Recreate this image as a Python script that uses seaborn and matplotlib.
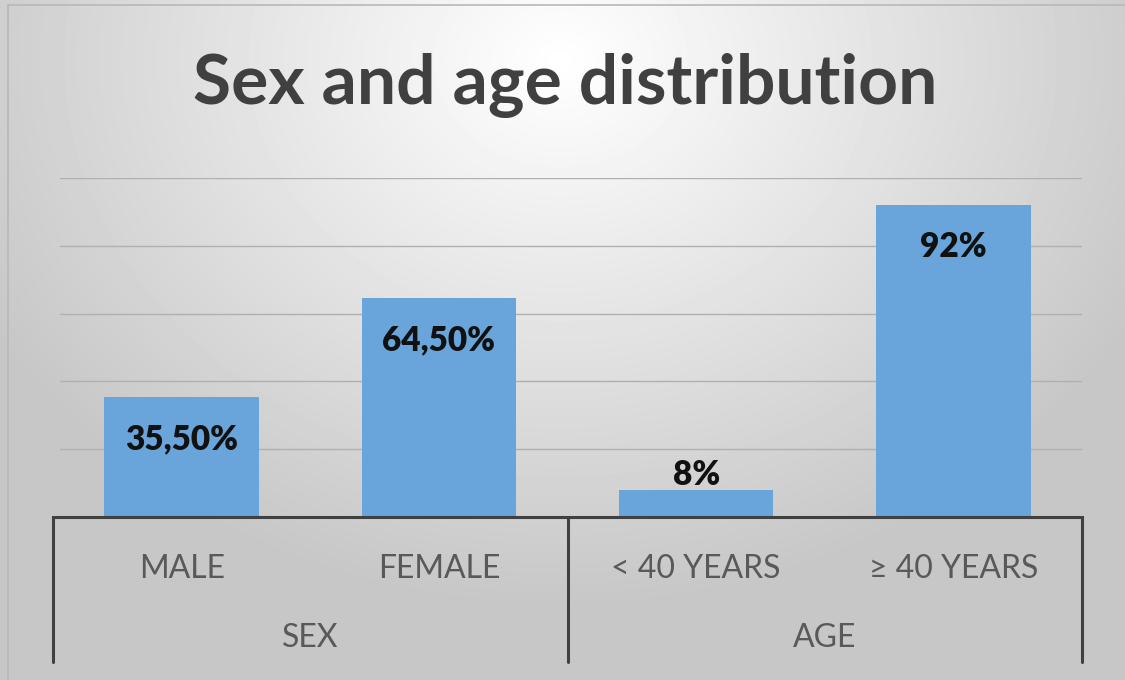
import numpy as np
import matplotlib
matplotlib.use("Agg")
import matplotlib.pyplot as plt
import seaborn as sns

# data
categories = ["MALE", "FEMALE", "< 40 YEARS", "≥ 40 YEARS"]
values = [35.5, 64.5, 8, 92]
value_labels = ["35,50%", "64,50%", "8%", "92%"]
groups = ["SEX", "AGE"]
group_sizes = [2, 2]

sns.set_style("white")
plt.rcParams["font.family"] = ["Lato", "DejaVu Sans"]

W, H = 1125, 680
fig = plt.figure(figsize=(W / 100, H / 100), dpi=100)

# radial grey gradient background, like the Office chart style
bg = fig.add_axes([0, 0, 1, 1], zorder=0)
yy, xx = np.mgrid[0:H, 0:W]
r = np.sqrt(((xx - 560) / 620.0) ** 2 + ((yy - 60) / 520.0) ** 2)
shade = np.clip(1.0 - 0.21 * r, 0.78, 1.0)
bg.imshow(shade, cmap="gray", vmin=0, vmax=1, aspect="auto", extent=[0, W, H, 0])
bg.plot([8, W], [5, 5], color="#b8b8b8", lw=1.2)
bg.plot([8, 8], [5, H], color="#b8b8b8", lw=1.2)
bg.set_xlim(0, W)
bg.set_ylim(H, 0)
bg.axis("off")

left, right, base, top = 53, 1082, 517, 178
ax = fig.add_axes([left / W, 1 - base / H, (right - left) / W, (base - top) / H], zorder=1)
ax.patch.set_alpha(0)

for g in [20, 40, 60, 80, 100]:
    ax.axhline(g, xmin=0.007, xmax=1, color="#b0b0b0", lw=1.0, zorder=0)

sns.barplot(x=categories, y=values, color="#69a5da", width=0.6, saturation=1,
            edgecolor="none", linewidth=0, ax=ax, zorder=2)

ax.set_ylim(0, 100)
ax.set_xlim(-0.5, len(categories) - 0.5)
ax.set_yticks([])
ax.set_ylabel("")
ax.set_xlabel("")
for s in ["left", "right", "top"]:
    ax.spines[s].set_visible(False)
ax.spines["bottom"].set_color("#404040")
ax.spines["bottom"].set_linewidth(2.2)
ax.tick_params(axis="x", length=0, pad=27, labelsize=23, labelcolor="#595959")

# value labels
for i, (v, lab) in enumerate(zip(values, value_labels)):
    y = v - 12.5 if v > 20 else v + 4.3
    ax.text(i, y, lab, ha="center", va="center", fontsize=24,
            fontweight="heavy", color="#111111")

# group separators and group labels
trans = ax.get_xaxis_transform()
depth = -(662 - base) / (base - top)
edges = np.concatenate([[0], np.cumsum(group_sizes)]) - 0.5
for e in edges:
    ax.plot([e, e], [0, depth], color="#404040", lw=2.2, transform=trans, clip_on=False)
for g, a, b in zip(groups, edges[:-1], edges[1:]):
    ax.text((a + b) / 2, -(638 - base) / (base - top), g, transform=trans,
            ha="center", va="center", fontsize=23, color="#595959")

fig.text(565 / W, 1 - 85 / H, "Sex and age distribution", ha="center", va="center",
         fontsize=50, fontweight="bold", color="#404040")

fig.savefig("out.png", dpi=100)
